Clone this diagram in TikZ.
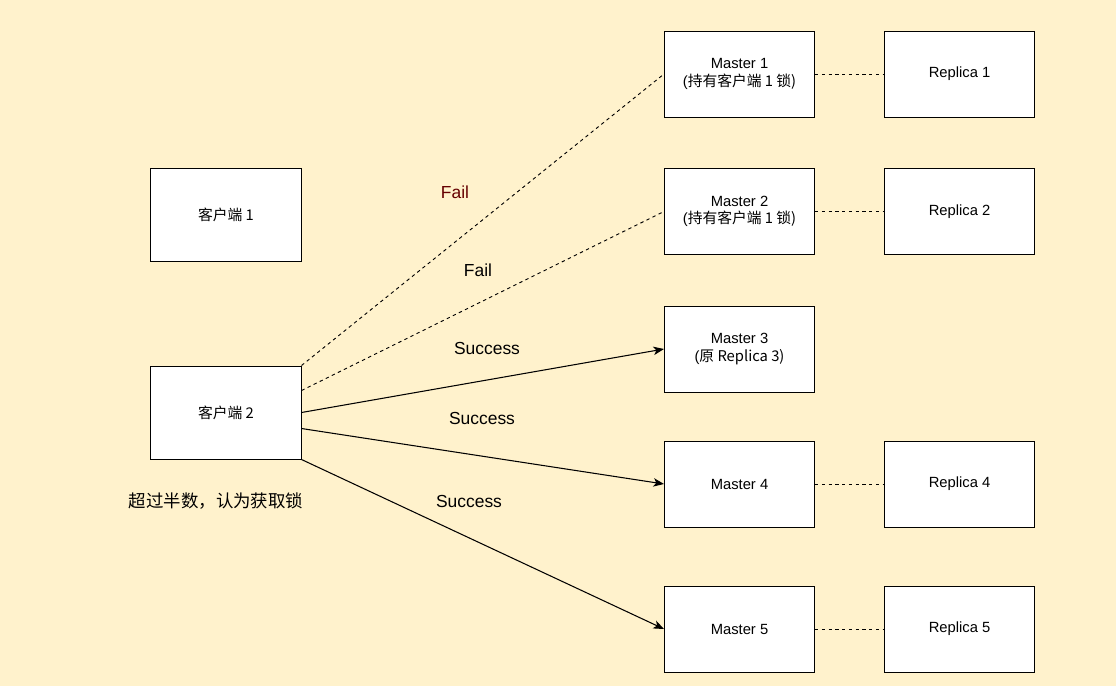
\documentclass[tikz,border=0pt]{standalone}
\usepackage{fontspec}
\setmainfont{Liberation Sans}
\newfontfamily\cjk{Noto Sans CJK SC}
\usetikzlibrary{calc,arrows.meta,positioning}
\definecolor{bgyellow}{HTML}{FFF2CC}
\definecolor{failred}{HTML}{660000}

\tikzset{
  box/.style={draw,fill=white,line width=0.7pt,minimum width=3.75cm,minimum height=2.15cm,
    inner sep=0pt,align=center,font=\fontsize{10.5}{12.2}\selectfont},
  client/.style={box,minimum height=2.325cm},
  link/.style={line width=0.65pt,dash pattern=on 2.4pt off 2.4pt},
  req/.style={line width=0.75pt,-{Stealth[length=7.5pt,width=6pt,inset=2pt]}},
  lbl/.style={font=\fontsize{12.4}{14}\selectfont}
}

\begin{document}
\begin{tikzpicture}[x=0.025cm,y=-0.025cm]
\useasboundingbox[fill=bgyellow] (0,0) rectangle (1116,686);

% clients
\node[client] (c1) at (226,214.5) {\cjk{客户端} 1};
\node[client] (c2) at (226,412.5) {\cjk{客户端} 2};

% masters
\node[box] (m1) at (739.5,74) {Master 1\\(\cjk{持有客户端} 1 \cjk{锁})};
\node[box] (m2) at (739.5,211.5) {Master 2\\(\cjk{持有客户端} 1 \cjk{锁})};
\node[box] (m3) at (739.5,349) {Master 3\\(\cjk{原} Replica 3)};
\node[box] (m4) at (739.5,484) {Master 4};
\node[box] (m5) at (739.5,629) {Master 5};

% replicas
\node[box,right=1.725cm of m1] (r1) {Replica 1};
\node[box,right=1.725cm of m2] (r2) {Replica 2};
\node[box,right=1.725cm of m4] (r4) {Replica 4};
\node[box,right=1.725cm of m5] (r5) {Replica 5};

\draw[link] (m1) -- (r1);
\draw[link] (m2) -- (r2);
\draw[link] (m4) -- (r4);
\draw[link] (m5) -- (r5);

% requests
\draw[link] (c2.north east) -- (m1.west);
\draw[link] ([yshift=0.55cm]c2.east) -- (m2.west);
\draw[req] (c2.east) -- (m3.west);
\draw[req] ([yshift=-0.4cm]c2.east) -- (m4.west);
\draw[req] (c2.south east) -- (m5.west);

\node[lbl,text=failred] (f1) at (455,192) {Fail};
\node[lbl] (f2) at (478,270) {Fail};
\node[lbl] (s3) at (487,348) {Success};
\node[lbl] (s4) at (482,418) {Success};
\node[lbl] (s5) at (469,501) {Success};

\node[lbl] (quorum) at (216,501) {\cjk{超过半数，认为获取锁}};
\end{tikzpicture}
\end{document}
